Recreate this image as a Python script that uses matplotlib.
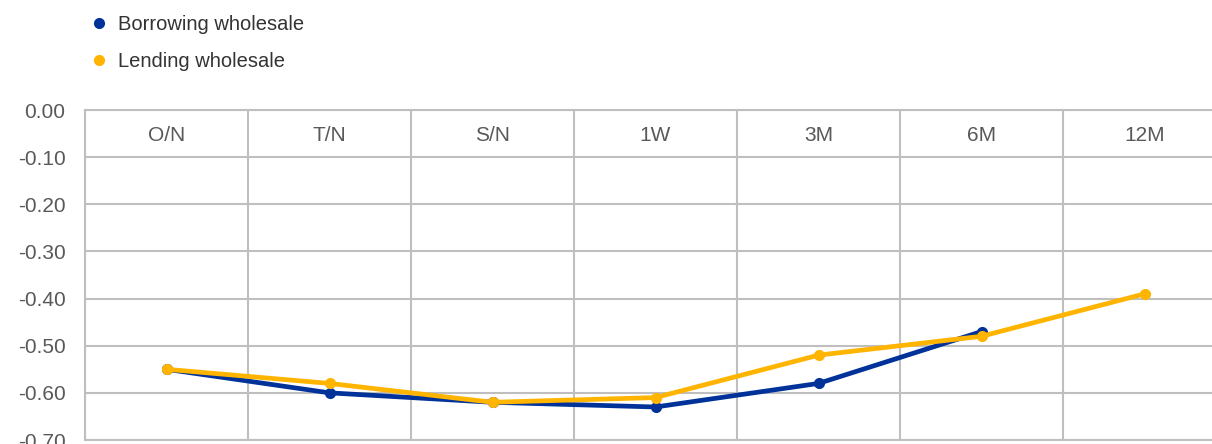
import numpy as np
import matplotlib
matplotlib.use("Agg")
import matplotlib.pyplot as plt
from matplotlib.lines import Line2D
from matplotlib.ticker import FormatStrFormatter, FixedLocator

# ---- data ----
tenors = ["O/N", "T/N", "S/N", "1W", "3M", "6M", "12M"]
borrowing = [-0.55, -0.60, -0.62, -0.63, -0.58, -0.47, np.nan]
lending = [-0.55, -0.58, -0.62, -0.61, -0.52, -0.48, -0.39]
y_ticks = [0.0, -0.1, -0.2, -0.3, -0.4, -0.5, -0.6, -0.7]

BLUE = "#003299"
YELLOW = "#FFB400"
GRID = "#BFBFBF"
TXT = "#595959"

plt.rcParams["font.family"] = ["Liberation Sans", "DejaVu Sans"]

fig = plt.figure(figsize=(12.12, 4.44), dpi=100)
ax = fig.add_axes([85 / 1212, 4 / 444, 1141 / 1212, 330 / 444])

x = np.arange(len(tenors))
ax.plot(x, borrowing, color=BLUE, lw=3.4, marker="o", ms=7, zorder=3)
ax.plot(x, lending, color=YELLOW, lw=3.4, marker="o", ms=7, zorder=4)

ax.set_xlim(-0.5, len(tenors) - 0.5)
ax.set_ylim(-0.70, 0.0)

# category labels sit inside the top band
ax.set_xticks(x)
ax.set_xticklabels(tenors)
ax.tick_params(axis="x", top=True, labeltop=True, bottom=False, labelbottom=False,
               length=0, pad=-25, labelsize=15, labelcolor=TXT)
ax.xaxis.set_minor_locator(FixedLocator(np.arange(-0.5, len(tenors), 1.0)))
ax.tick_params(axis="x", which="minor", length=0)

ax.set_yticks(y_ticks)
ax.yaxis.set_major_formatter(FormatStrFormatter("%.2f"))
ax.tick_params(axis="y", length=0, pad=14, labelsize=15, labelcolor=TXT)

ax.grid(axis="y", which="major", color=GRID, lw=1.5)
ax.grid(axis="x", which="minor", color=GRID, lw=1.5)
ax.grid(axis="x", which="major", visible=False)
for s in ax.spines.values():
    s.set_color(GRID)
    s.set_linewidth(1.5)

handles = [
    Line2D([], [], color=BLUE, marker="o", ls="none", ms=7, label="Borrowing wholesale"),
    Line2D([], [], color=YELLOW, marker="o", ls="none", ms=7, label="Lending wholesale"),
]
fig.legend(handles=handles, loc="upper left", bbox_to_anchor=(74 / 1212, 1.0),
           frameon=False, fontsize=14.5, handlelength=1.0, handletextpad=0.45,
           labelspacing=0.9, labelcolor="#333333", borderaxespad=0.35)

fig.savefig("out.png", dpi=100)
